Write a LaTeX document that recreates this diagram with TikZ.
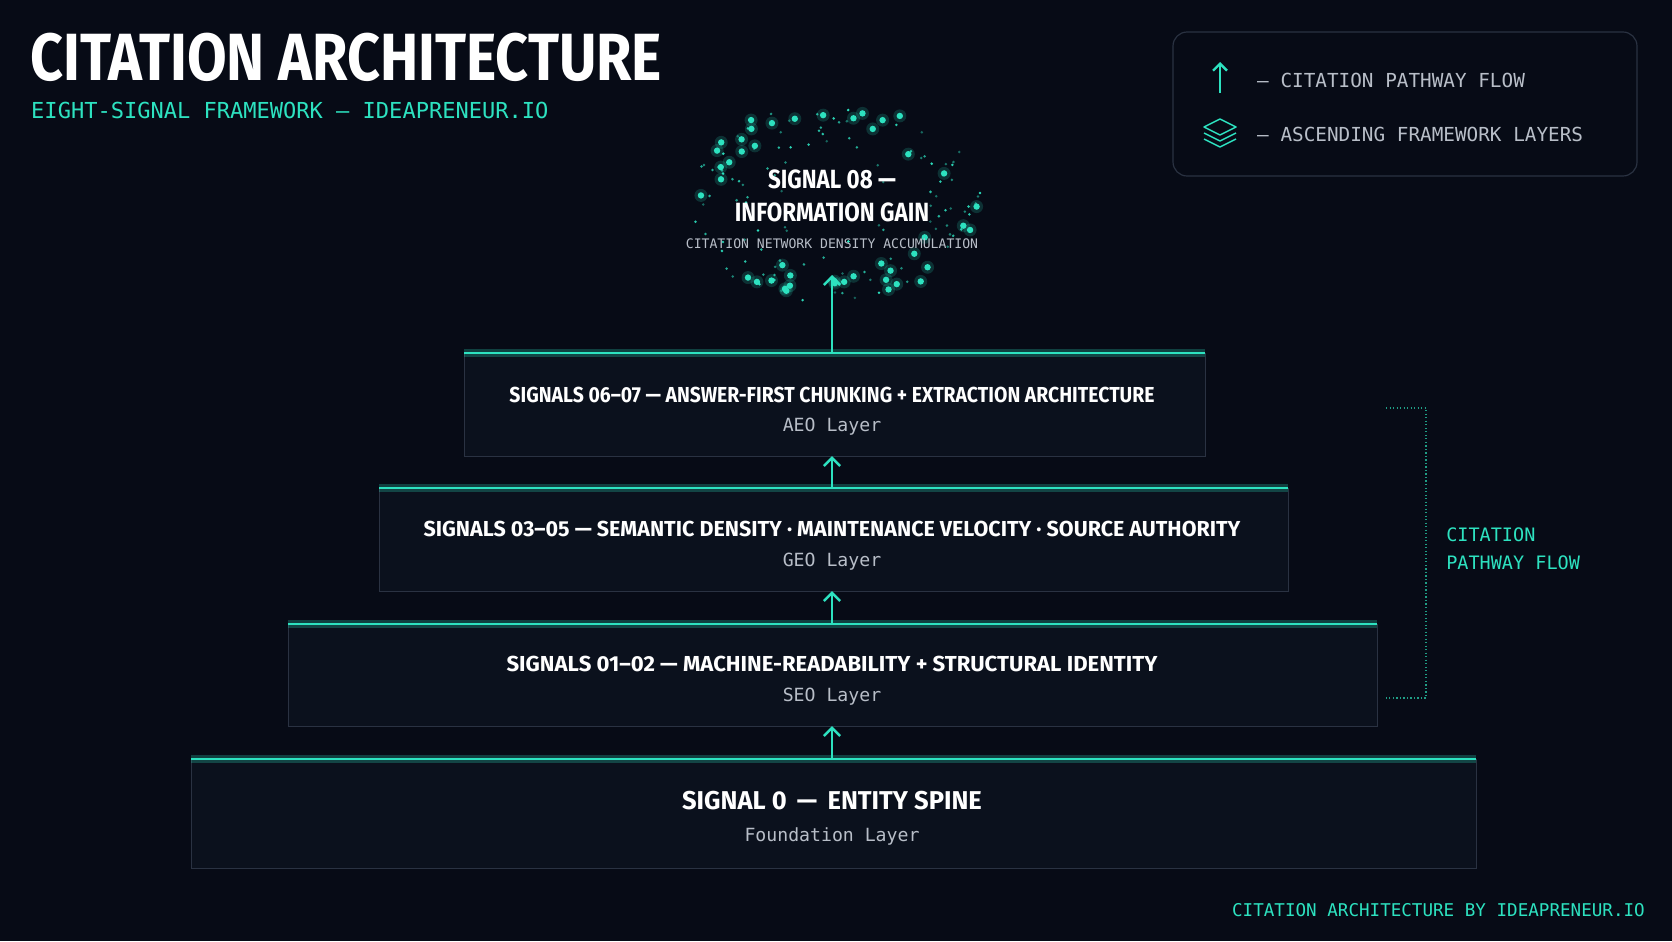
\documentclass[tikz,border=0pt]{standalone}
\usepackage{fontspec}
\setsansfont{Fira Sans}
\setmonofont{DejaVu Sans Mono}
\usetikzlibrary{arrows.meta}
\definecolor{bg}{HTML}{070B16}
\definecolor{teal}{HTML}{2DE2C0}
\definecolor{boxfill}{HTML}{0B111D}
\definecolor{boxline}{HTML}{2A3242}
\definecolor{subgray}{HTML}{B8BEC8}
\newcommand{\cnd}[2]{\scalebox{#1}[1]{#2}}
\tikzset{
  layer/.style={draw=boxline, fill=boxfill, line width=0.8pt},
  ttl/.style={text=white, font=\sffamily\bfseries\fontsize{18.5}{20}\selectfont, inner sep=0},
  sub/.style={text=subgray, font=\ttfamily\fontsize{15.5}{17}\selectfont, inner sep=0},
  flow/.style={draw=teal, line width=2.2pt, -{Straight Barb[length=7pt,width=14pt,line width=2.2pt]}},
  mono/.style={font=\ttfamily\fontsize{16.5}{20}\selectfont, inner sep=0},
}
\begin{document}
\begin{tikzpicture}[x=0.03cm,y=-0.03cm]
\fill[bg] (0,0) rectangle (1672,941);
\useasboundingbox (0,0) rectangle (1672,941);
% title
\node[anchor=west, text=white, inner sep=0, font=\sffamily\bfseries\fontsize{57}{60}\selectfont] (title) at (30,57) {\cnd{0.86}{CITATION ARCHITECTURE}};
\node[anchor=west, text=teal, inner sep=0, font=\ttfamily\fontsize{18.8}{22}\selectfont] (subt) at (31,110) {EIGHT-SIGNAL FRAMEWORK — IDEAPRENEUR.IO};
% legend
\draw[boxline, line width=1pt, rounded corners=12pt] (1173,32) rectangle (1637,176);
\coordinate (la1) at (1220,93); \coordinate (la2) at (1220,62);
\draw[flow, line width=2pt, -{Straight Barb[length=6pt,width=12pt,line width=2pt]}] (la1) -- (la2);
\node[anchor=west, mono, text=subgray] (l1) at (1257,80) {— CITATION PATHWAY FLOW};
\begin{scope}[shift={(1220,133)}, teal, line width=1.3pt, line join=round]
\draw (-16,6) -- (0,14) -- (16,6);
\draw (-16,0) -- (0,8) -- (16,0);
\draw (-16,-6) -- (0,-14) -- (16,-6) -- (0,2) -- cycle;
\end{scope}
\node[anchor=west, mono, text=subgray] (l2) at (1257,134) {— ASCENDING FRAMEWORK LAYERS};
% network dots
\pgfmathsetseed{11}
\foreach \i in {1,...,45}{
  \pgfmathsetmacro{\ang}{rnd*360}
  \pgfmathsetmacro{\rr}{0.6+0.4*sqrt(rnd)}
  \pgfmathsetmacro{\px}{832+150*\rr*cos(\ang)}
  \pgfmathsetmacro{\py}{203+100*\rr*sin(\ang)}
  \fill[teal, opacity=0.18] (\px,\py) circle (6.5);
  \fill[teal] (\px,\py) circle (3.2);
}
\foreach \i in {1,...,110}{
  \pgfmathsetmacro{\ang}{rnd*360}
  \pgfmathsetmacro{\rr}{0.35+0.65*sqrt(rnd)}
  \pgfmathsetmacro{\op}{0.4+0.6*rnd}
  \fill[teal, opacity=\op] ({832+150*\rr*cos(\ang)},{203+100*\rr*sin(\ang)}) circle (1.4);
}
\node[text=white, inner sep=0, font=\sffamily\bfseries\fontsize{22.5}{26}\selectfont, align=center] (s8) at (832,196) {\cnd{0.85}{SIGNAL 08 —}\\[2pt]\cnd{0.85}{INFORMATION GAIN}};
\node[text=subgray, inner sep=0, font=\ttfamily\fontsize{11.2}{13}\selectfont] (s8sub) at (832,244) {CITATION NETWORK DENSITY ACCUMULATION};
\coordinate (top) at (832,275);
% layers
\newcommand{\layer}[4]{%
  \draw[layer] (#1,#3) rectangle (#2,#4);
  \draw[teal, opacity=0.25, line width=7pt] (#1,#3) -- (#2,#3);
  \draw[teal, line width=2.2pt] (#1,#3) -- (#2,#3);
}
\layer{464}{1205}{353}{456}
\layer{379}{1288}{488}{591}
\layer{288}{1377}{624}{726}
\layer{191}{1476}{759}{868}
\coordinate (b4t) at (832,353); \coordinate (b4b) at (832,456);
\coordinate (b3t) at (832,488); \coordinate (b3b) at (832,591);
\coordinate (b2t) at (832,624); \coordinate (b2b) at (832,726);
\coordinate (b1t) at (832,759);
\node[ttl] (t4) at (832,395) {\cnd{0.895}{SIGNALS 06–07 — ANSWER-FIRST CHUNKING + EXTRACTION ARCHITECTURE}};
\node[sub] (u4) at (832,427) {AEO Layer};
\node[ttl] (t3) at (832,529) {\cnd{0.99}{SIGNALS 03–05 — SEMANTIC DENSITY · MAINTENANCE VELOCITY · SOURCE AUTHORITY}};
\node[sub] (u3) at (832,562) {GEO Layer};
\node[ttl] (t2) at (832,664) {\cnd{1.02}{SIGNALS 01–02 — MACHINE-READABILITY + STRUCTURAL IDENTITY}};
\node[sub] (u2) at (832,697) {SEO Layer};
\node[ttl, font=\sffamily\bfseries\fontsize{22}{24}\selectfont] (t1) at (832,801) {\cnd{0.99}{SIGNAL 0 \,—\, ENTITY SPINE}};
\node[sub] (u1) at (832,836) {Foundation Layer};
% arrows
\draw[flow] (b4t) -- (top);
\draw[flow] (b3t) -- (b4b);
\draw[flow] (b2t) -- (b3b);
\draw[flow] (b1t) -- (b2b);
% bracket
\coordinate (k1) at (1386,408); \coordinate (k2) at (1426,408);
\coordinate (k3) at (1426,698); \coordinate (k4) at (1386,698);
\draw[teal!70!black, line width=1pt, dotted] (k1) -- (k2) -- (k3) -- (k4);
\node[anchor=west, mono, font=\ttfamily\fontsize{15.8}{20}\selectfont, text=teal, align=left] (bl) at (1446,549) {CITATION\\[4pt]PATHWAY FLOW};
% footer
\node[anchor=east, text=teal, inner sep=0, font=\ttfamily\fontsize{15}{18}\selectfont] (foot) at (1645,910) {CITATION ARCHITECTURE BY IDEAPRENEUR.IO};
\end{tikzpicture}
\end{document}
